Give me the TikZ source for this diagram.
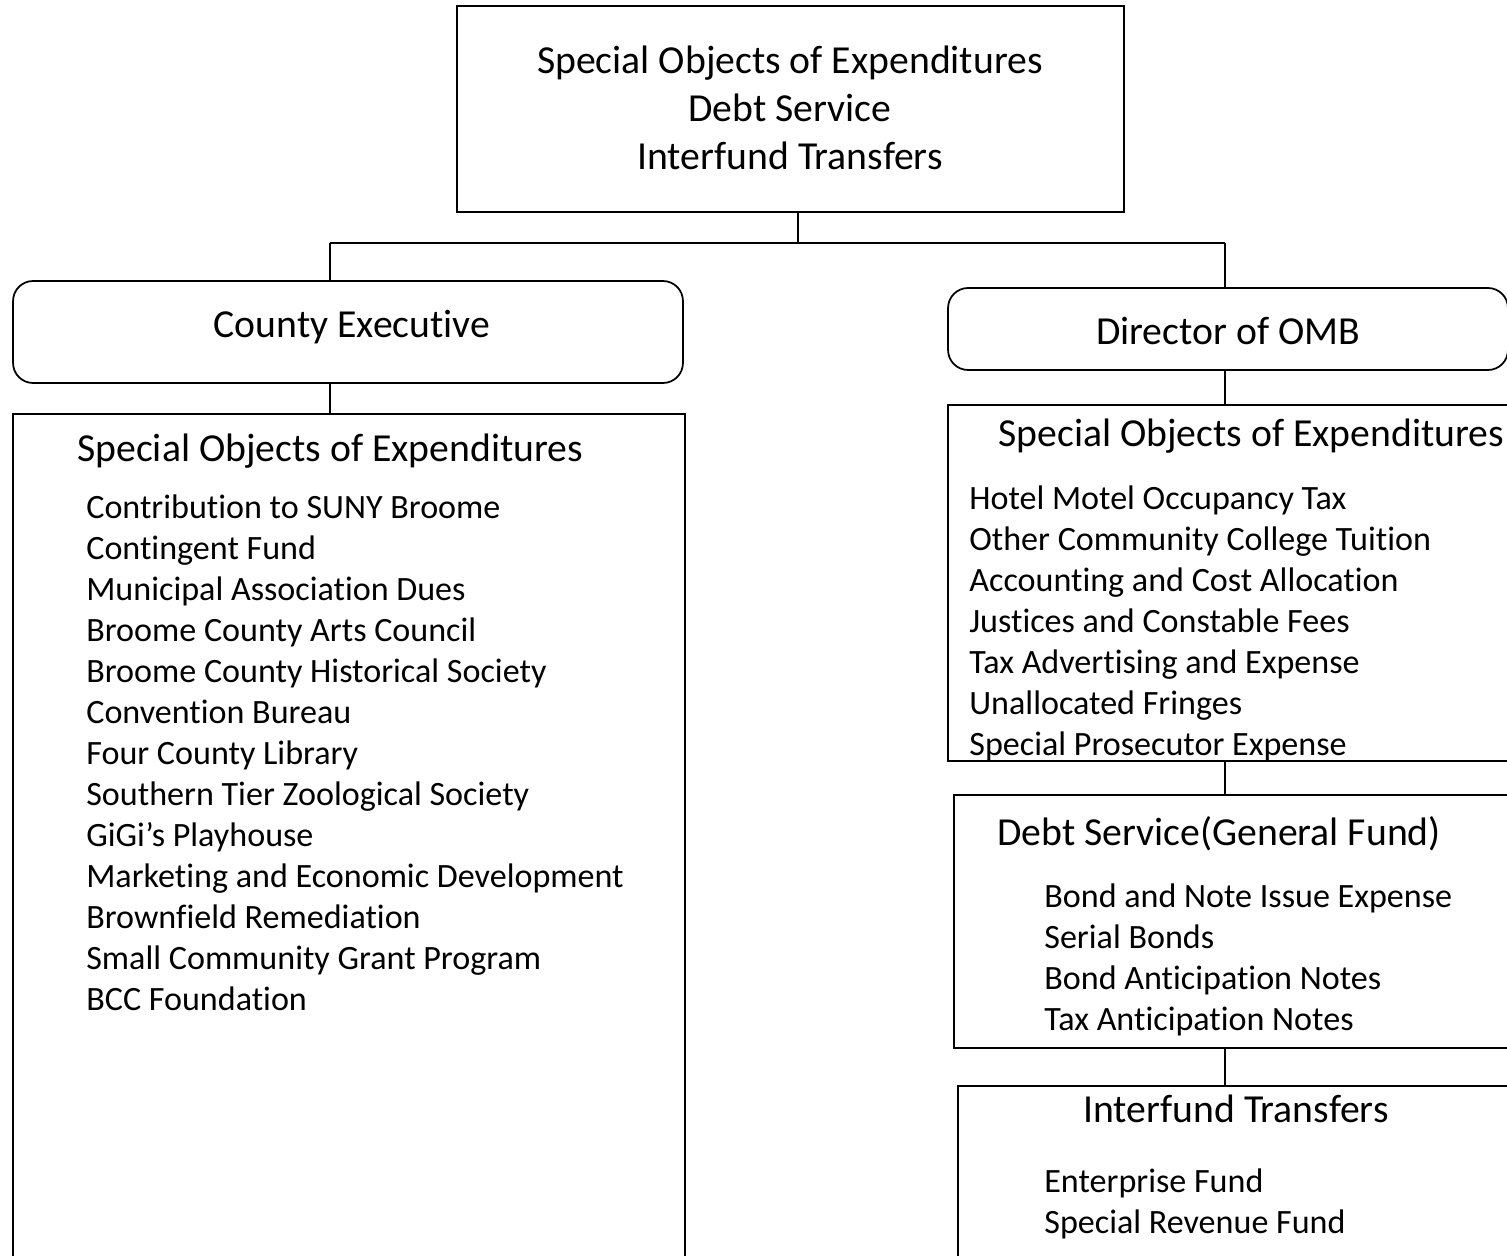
\documentclass[tikz,border=0pt]{standalone}
\usepackage{fontspec}
\setmainfont{Carlito}[Ligatures={NoCommon}]
\usepackage{tikz}
\usetikzlibrary{positioning}

\begin{document}
\begin{tikzpicture}[x=0.02cm,y=-0.02cm,
    box/.style={draw,line width=1pt,rectangle,inner sep=0pt},
    headbox/.style={box,rounded corners=0.4cm},
    title/.style={inner sep=0pt,font=\fontsize{22.6}{27}\selectfont},
    item/.style={inner sep=0pt,anchor=base west,font=\fontsize{19.4}{23}\selectfont},
    link/.style={draw,line width=0.8pt}]
\clip (0,0) rectangle (1507,1256);
% boxes
\node[box,minimum width=13.34cm,minimum height=4.12cm] (top) at (790.5,109) {};
\node[headbox,minimum width=13.4cm,minimum height=2.04cm] (ce) at (348,332) {};
\node[box,minimum width=13.44cm,minimum height=17.52cm] (soeL) at (349,852) {};
\node[headbox,minimum width=11.2cm,minimum height=1.64cm] (omb) at (1228,329) {};
\node[box,minimum width=11.44cm,minimum height=7.12cm] (soeR) at (1234,583) {};
\node[box,minimum width=11.32cm,minimum height=5.06cm] (debt) at (1237,921.5) {};
\node[box,minimum width=11.24cm,minimum height=4.28cm] (itf) at (1239,1193) {};
% texts
\node[title,anchor=base] (topA) at (790,74) {Special Objects of Expenditures};
\node[title,anchor=base] (topB) at (790,122) {Debt Service};
\node[title,anchor=base] (topC) at (790,170) {Interfund Transfers};
\node[title,anchor=base] (ceT) at (352,338) {County Executive};
\node[title,anchor=base] (ombT) at (1228,345) {Director of OMB};
\node[title,anchor=base west] (soeLT) at (77,461) {Special Objects of Expenditures};
\node[title,anchor=base west] (soeRT) at (998,447) {Special Objects of Expenditures};
\node[title,anchor=base west] (debtT) at (997,845) {Debt Service(General Fund)};
\node[title,anchor=base] (itfT) at (1236,1122) {Interfund Transfers};
\foreach \t [count=\i from 0] in {Contribution to SUNY Broome,Contingent Fund,
    Municipal Association Dues,Broome County Arts Council,
    Broome County Historical Society,Convention Bureau,Four County Library,
    Southern Tier Zoological Society,GiGi’s Playhouse,
    Marketing and Economic Development,Brownfield Remediation,
    Small Community Grant Program,BCC Foundation}
  \node[item] (l\i) at (86,518+41*\i) {\t};
\foreach \t [count=\i from 0] in {Hotel Motel Occupancy Tax,
    Other Community College Tuition,Accounting and Cost Allocation,
    Justices and Constable Fees,Tax Advertising and Expense,
    Unallocated Fringes,Special Prosecutor Expense}
  \node[item] (r\i) at (969,509+41*\i) {\t};
\foreach \t [count=\i from 0] in {Bond and Note Issue Expense,Serial Bonds,
    Bond Anticipation Notes,Tax Anticipation Notes}
  \node[item] (d\i) at (1044,907+41*\i) {\t};
\foreach \t [count=\i from 0] in {Enterprise Fund,Special Revenue Fund}
  \node[item] (f\i) at (1044,1192+41*\i) {\t};
% connectors
\coordinate (lcol) at (330,0);
\coordinate (rcol) at (1225,0);
\path[link] (top.south -| 798,0) -- ++(0,30) coordinate (bus);
\path[link] (bus -| lcol) -- (bus -| rcol);
\path[link] (bus -| lcol) -- (ce.north -| lcol);
\path[link] (bus -| rcol) -- (omb.north -| rcol);
\path[link] (ce.south -| lcol) -- (soeL.north -| lcol);
\path[link] (omb.south -| rcol) -- (soeR.north -| rcol);
\path[link] (soeR.south -| rcol) -- (debt.north -| rcol);
\path[link] (debt.south -| rcol) -- (itf.north -| rcol);
\end{tikzpicture}
\end{document}
